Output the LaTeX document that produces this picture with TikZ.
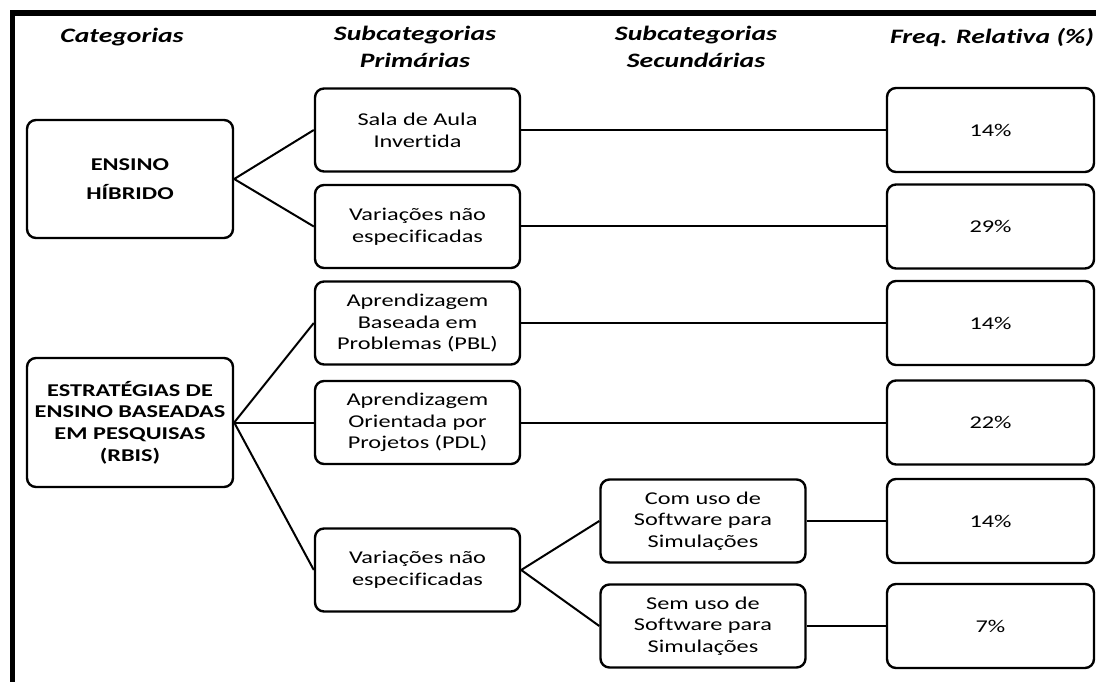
\documentclass[tikz,border=0pt]{standalone}
\usepackage{fontspec}
\setmainfont{Carlito}[FakeStretch=1.35, Ligatures=NoCommon]

\tikzset{
  box/.style={draw, rectangle, rounded corners=9pt, line width=2.4pt, align=center, inner sep=0pt},
  catbox/.style={box, minimum width=206pt, font=\fontsize{18}{21.7}\selectfont\bfseries},
  subbox/.style={box, minimum width=205pt, minimum height=83pt, font=\fontsize{18}{21.7}\selectfont},
  freqbox/.style={box, minimum width=207pt, minimum height=84pt, font=\fontsize{18}{21.7}\selectfont},
  header/.style={align=center, font=\fontsize{20.5}{27}\selectfont\bfseries\itshape},
  link/.style={line width=2pt}
}

\begin{document}
\begin{tikzpicture}[x=1pt, y=-1pt]
\useasboundingbox (0,0) rectangle (1096,682);

% Frame
\draw[line width=5.5pt] (12.5,682) -- (12.5,13) -- (1096,13);

% Column headers
\node[header] (hcat) at (122,37) {Categorias};
\node[header] (hprim) at (415,47) {Subcategorias\\Primárias};
\node[header] (hsec) at (696,47) {Subcategorias\\Secundárias};
\node[header] (hfreq) at (992,38) {Freq. Relativa (\%)};

% Categories
\node[catbox, minimum height=118pt] (hibrido) at (130,179) {ENSINO\\[7pt]HÍBRIDO};
\node[catbox, minimum height=129pt] (rbis) at (130,422.5) {ESTRATÉGIAS DE\\ENSINO BASEADAS\\EM PESQUISAS\\(RBIS)};

% Primary subcategories
\node[subbox] (invertida) at (417.5,130) {Sala de Aula\\Invertida};
\node[subbox] (varhib) at (417.5,226.5) {Variações não\\especificadas};
\node[subbox] (pbl) at (417.5,323) {Aprendizagem\\Baseada em\\Problemas (PBL)};
\node[subbox] (pdl) at (417.5,422.5) {Aprendizagem\\Orientada por\\Projetos (PDL)};
\node[subbox] (varrbis) at (417.5,570) {Variações não\\especificadas};

% Secondary subcategories
\node[subbox] (comsw) at (703,521) {Com uso de\\Software para\\Simulações};
\node[subbox] (semsw) at (703,626) {Sem uso de\\Software para\\Simulações};

% Relative frequencies
\node[freqbox] (f1) at (990.5,130) {14\%};
\node[freqbox] (f2) at (990.5,226.5) {29\%};
\node[freqbox] (f3) at (990.5,323) {14\%};
\node[freqbox] (f4) at (990.5,422.5) {22\%};
\node[freqbox] (f5) at (990.5,521) {14\%};
\node[freqbox] (f6) at (990.5,626) {7\%};

% Links
\draw[link] (hibrido.east) -- (invertida.west);
\draw[link] (hibrido.east) -- (varhib.west);
\draw[link] (rbis.east) -- (pbl.west);
\draw[link] (rbis.east) -- (pdl.west);
\draw[link] (rbis.east) -- (varrbis.west);
\draw[link] (varrbis.east) -- (comsw.west);
\draw[link] (varrbis.east) -- (semsw.west);
\draw[link] (invertida.east) -- (f1.west);
\draw[link] (varhib.east) -- (f2.west);
\draw[link] (pbl.east) -- (f3.west);
\draw[link] (pdl.east) -- (f4.west);
\draw[link] (comsw.east) -- (f5.west);
\draw[link] (semsw.east) -- (f6.west);
\end{tikzpicture}
\end{document}
